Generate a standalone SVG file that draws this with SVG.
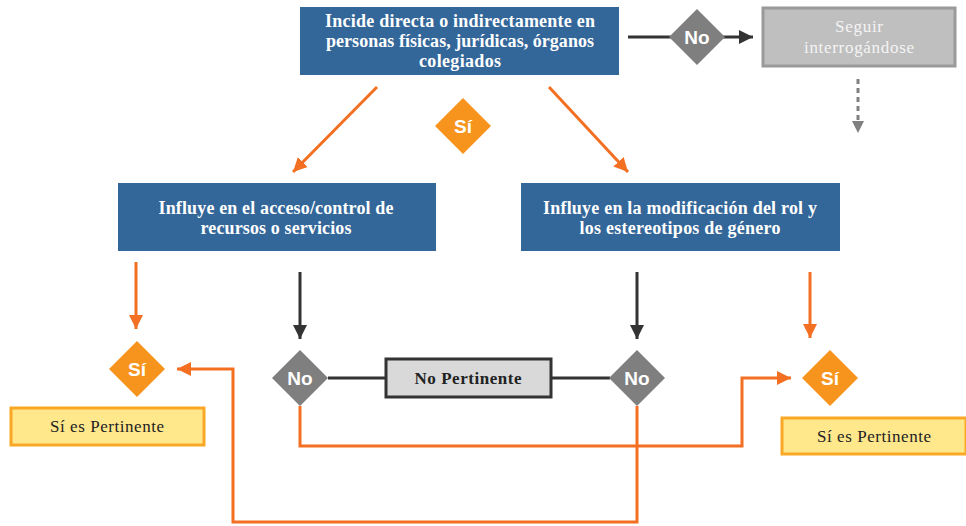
<svg xmlns="http://www.w3.org/2000/svg" width="966" height="526" viewBox="0 0 966 526">
<style>
.blue{fill:#336699;}
.bt{font-family:"Liberation Serif","DejaVu Serif",serif;font-weight:bold;font-size:18px;fill:#ffffff;text-anchor:middle;}
.dia-o{fill:#f7941d;}
.dia-g{fill:#7f7f7f;}
.dt{font-family:"Liberation Sans",Arial,sans-serif;font-weight:bold;font-size:19px;fill:#ffffff;text-anchor:middle;}
.or{fill:none;stroke:#f36f21;stroke-width:3;}
.bk{fill:none;stroke:#333333;stroke-width:3;}
.yes{fill:#ffe78c;stroke:#f9a825;stroke-width:3;}
.yt{font-family:"Liberation Serif","DejaVu Serif",serif;font-size:17px;fill:#222;text-anchor:middle;}
.gt{font-family:"Liberation Serif","DejaVu Serif",serif;font-size:17px;fill:#f4f4f4;text-anchor:middle;}
</style>
<defs>
<marker id="ao" markerUnits="userSpaceOnUse" markerWidth="16" markerHeight="16" refX="14" refY="7" orient="auto"><path d="M0,0 L14,7 L0,14 Z" fill="#f36f21"/></marker>
<marker id="ab" markerUnits="userSpaceOnUse" markerWidth="16" markerHeight="16" refX="14" refY="7" orient="auto"><path d="M0,0 L14,7 L0,14 Z" fill="#333333"/></marker>
<marker id="ag" markerUnits="userSpaceOnUse" markerWidth="16" markerHeight="16" refX="12" refY="6" orient="auto"><path d="M0,0 L12,6 L0,12 Z" fill="#808080"/></marker>
</defs>
<rect width="966" height="526" fill="#ffffff"/>
<g id="connectors">
<line class="bk" x1="628" y1="37" x2="672" y2="37"/>
<line class="bk" x1="722" y1="37" x2="753" y2="37" marker-end="url(#ab)"/>
<line x1="858" y1="79" x2="858" y2="133" stroke="#808080" stroke-width="3" stroke-dasharray="5,4" marker-end="url(#ag)"/>
<line class="or" x1="377" y1="87" x2="293" y2="172" marker-end="url(#ao)"/>
<line class="or" x1="549" y1="87" x2="628" y2="172" marker-end="url(#ao)"/>
<line class="or" x1="136" y1="262" x2="136" y2="329" marker-end="url(#ao)"/>
<line class="bk" x1="300" y1="272" x2="300" y2="339" marker-end="url(#ab)"/>
<line class="bk" x1="637" y1="272" x2="637" y2="339" marker-end="url(#ab)"/>
<line class="or" x1="810" y1="272" x2="810" y2="338" marker-end="url(#ao)"/>
<line class="bk" x1="328" y1="378" x2="386" y2="378"/>
<line class="bk" x1="551" y1="378" x2="610" y2="378"/>
<polyline class="or" points="300,406 300,446 742,446 742,378 791,378" marker-end="url(#ao)"/>
<polyline class="or" points="637,406 637,522 233,522 233,369 177,369" marker-end="url(#ao)"/>
</g>
<g id="n-incide">
<rect class="blue" x="300" y="7" width="319" height="68"/>
<text class="bt" x="460" y="27" textLength="270">Incide directa o indirectamente en</text>
<text class="bt" x="460" y="47" textLength="268">personas físicas, jurídicas, órganos</text>
<text class="bt" x="460" y="67" textLength="82">colegiados</text>
</g>
<g id="n-no-top">
<polygon class="dia-g" points="697,9 725,37 697,65 669,37"/>
<text class="dt" x="697" y="44">No</text>
</g>
<g id="n-seguir">
<rect x="763" y="8" width="192" height="58" fill="#bfbfbf" stroke="#9a9a9a" stroke-width="3"/>
<text class="gt" x="859" y="32" textLength="48">Seguir</text>
<text class="gt" x="859" y="53" textLength="110">interrogándose</text>
</g>
<g id="n-si-top">
<polygon class="dia-o" points="463,98 491,126 463,154 435,126"/>
<text class="dt" x="463" y="133">Sí</text>
</g>
<g id="n-acceso">
<rect class="blue" x="118" y="183" width="318" height="68"/>
<text class="bt" x="276" y="214" textLength="235">Influye en el acceso/control de</text>
<text class="bt" x="276" y="234" textLength="151">recursos o servicios</text>
</g>
<g id="n-rol">
<rect class="blue" x="521" y="183" width="319" height="68"/>
<text class="bt" x="680" y="214" textLength="274">Influye en la modificación del rol y</text>
<text class="bt" x="680" y="234" textLength="201">los estereotipos de género</text>
</g>
<g id="n-si-left">
<polygon class="dia-o" points="137,341 165,369 137,397 109,369"/>
<text class="dt" x="137" y="376">Sí</text>
</g>
<g id="n-pert-left">
<rect class="yes" x="11" y="408" width="193" height="37"/>
<text class="yt" x="107" y="432" textLength="114">Sí es Pertinente</text>
</g>
<g id="n-no-left">
<polygon class="dia-g" points="300,350 328,378 300,406 272,378"/>
<text class="dt" x="300" y="385">No</text>
</g>
<g id="n-nopert">
<rect x="386" y="359" width="165" height="38" fill="#d9d9d9" stroke="#333333" stroke-width="3"/>
<text x="468" y="384" font-family="Liberation Serif, DejaVu Serif, serif" font-weight="bold" font-size="17" fill="#222" text-anchor="middle" textLength="107">No Pertinente</text>
</g>
<g id="n-no-right">
<polygon class="dia-g" points="637,350 665,378 637,406 609,378"/>
<text class="dt" x="637" y="385">No</text>
</g>
<g id="n-si-right">
<polygon class="dia-o" points="830,350 858,378 830,406 802,378"/>
<text class="dt" x="830" y="385">Sí</text>
</g>
<g id="n-pert-right">
<rect class="yes" x="782" y="418" width="184" height="36"/>
<text class="yt" x="874" y="442" textLength="114">Sí es Pertinente</text>
</g>
</svg>
